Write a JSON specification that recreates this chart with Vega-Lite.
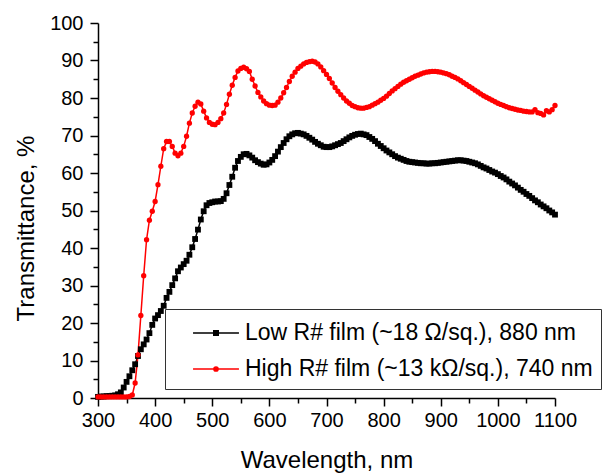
{
  "$schema": "https://vega.github.io/schema/vega-lite/v6.json",
  "width": 457,
  "height": 375,
  "autosize": {"type": "none"},
  "padding": {"left": 98, "top": 23, "right": 51, "bottom": 77},
  "background": "white",
  "config": {
    "view": {"stroke": null},
    "font": "Liberation Sans",
    "axis": {
      "grid": false,
      "domainColor": "#000000",
      "domainWidth": 1.5,
      "tickColor": "#000000",
      "tickWidth": 1.5,
      "labelColor": "#000000",
      "labelFont": "Liberation Sans",
      "labelFontSize": 20,
      "titleFont": "Liberation Sans",
      "titleFontSize": 24,
      "titleFontWeight": "normal",
      "titleColor": "#000000",
      "labelOverlap": false,
      "labelFlush": false
    }
  },
  "data": {
    "values": [
      {"w":300,"L":0.3,"H":0.3},{"w":305,"L":0.4,"H":0.3},{"w":310,"L":0.4,"H":0.3},{"w":315,"L":0.5,"H":0.3},{"w":320,"L":0.5,"H":0.3},
      {"w":325,"L":0.6,"H":0.3},{"w":330,"L":0.7,"H":0.3},{"w":335,"L":1.0,"H":0.3},{"w":340,"L":1.5,"H":0.3},{"w":345,"L":2.8,"H":0.3},
      {"w":350,"L":4.3,"H":0.3},{"w":355,"L":5.8,"H":0.4},{"w":360,"L":7.4,"H":0.8},{"w":365,"L":9.0,"H":4.0},{"w":370,"L":11.2,"H":11.5},
      {"w":375,"L":13.0,"H":22.0},{"w":380,"L":14.3,"H":32.6},{"w":385,"L":15.6,"H":42.2},{"w":390,"L":17.3,"H":47.4},{"w":395,"L":19.5,"H":49.8},
      {"w":400,"L":21.2,"H":52.4},{"w":405,"L":22.1,"H":56.9},{"w":410,"L":23.2,"H":61.8},{"w":415,"L":24.6,"H":66.5},{"w":420,"L":26.7,"H":68.4},
      {"w":425,"L":28.3,"H":68.4},{"w":430,"L":30.1,"H":67.1},{"w":435,"L":31.9,"H":65.3},{"w":440,"L":33.8,"H":64.6},{"w":445,"L":34.8,"H":65.3},
      {"w":450,"L":35.7,"H":67.1},{"w":455,"L":36.6,"H":69.8},{"w":460,"L":38.2,"H":73.3},{"w":465,"L":40.2,"H":76.0},{"w":470,"L":42.4,"H":77.8},
      {"w":475,"L":44.9,"H":78.9},{"w":480,"L":47.6,"H":78.4},{"w":485,"L":49.8,"H":76.5},{"w":490,"L":51.4,"H":74.7},{"w":495,"L":52.0,"H":73.5},
      {"w":500,"L":52.2,"H":73.0},{"w":505,"L":52.4,"H":72.9},{"w":510,"L":52.4,"H":73.5},{"w":515,"L":52.5,"H":74.5},{"w":520,"L":53.1,"H":76.0},
      {"w":525,"L":54.6,"H":78.3},{"w":530,"L":56.8,"H":81.0},{"w":535,"L":59.0,"H":83.4},{"w":540,"L":61.4,"H":85.5},{"w":545,"L":63.2,"H":87.2},
      {"w":550,"L":64.3,"H":87.9},{"w":555,"L":65.0,"H":88.2},{"w":560,"L":65.1,"H":87.8},{"w":565,"L":64.7,"H":87.1},{"w":570,"L":64.1,"H":85.0},
      {"w":575,"L":63.4,"H":83.2},{"w":580,"L":62.9,"H":81.5},{"w":585,"L":62.5,"H":80.3},{"w":590,"L":62.2,"H":79.2},{"w":595,"L":62.3,"H":78.5},
      {"w":600,"L":62.8,"H":78.1},{"w":605,"L":63.5,"H":78.0},{"w":610,"L":64.5,"H":78.1},{"w":615,"L":65.7,"H":78.9},{"w":620,"L":66.9,"H":80.0},
      {"w":625,"L":68.0,"H":81.4},{"w":630,"L":69.0,"H":82.8},{"w":635,"L":69.8,"H":84.4},{"w":640,"L":70.3,"H":85.8},{"w":645,"L":70.6,"H":86.9},
      {"w":650,"L":70.7,"H":87.9},{"w":655,"L":70.5,"H":88.5},{"w":660,"L":70.3,"H":89.1},{"w":665,"L":69.9,"H":89.5},{"w":670,"L":69.4,"H":89.7},
      {"w":675,"L":68.9,"H":89.8},{"w":680,"L":68.3,"H":89.6},{"w":685,"L":67.8,"H":89.1},{"w":690,"L":67.4,"H":88.3},{"w":695,"L":67.0,"H":87.3},
      {"w":700,"L":66.9,"H":86.3},{"w":705,"L":66.9,"H":85.2},{"w":710,"L":67.1,"H":84.0},{"w":715,"L":67.4,"H":82.8},{"w":720,"L":67.7,"H":81.8},
      {"w":725,"L":68.0,"H":80.9},{"w":730,"L":68.5,"H":80.0},{"w":735,"L":69.0,"H":79.2},{"w":740,"L":69.5,"H":78.6},{"w":745,"L":69.9,"H":78.0},
      {"w":750,"L":70.2,"H":77.7},{"w":755,"L":70.4,"H":77.4},{"w":760,"L":70.5,"H":77.3},{"w":765,"L":70.3,"H":77.3},{"w":770,"L":70.1,"H":77.5},
      {"w":775,"L":69.6,"H":77.7},{"w":780,"L":69.1,"H":78.1},{"w":785,"L":68.5,"H":78.5},{"w":790,"L":67.8,"H":78.9},{"w":795,"L":67.2,"H":79.4},
      {"w":800,"L":66.6,"H":79.9},{"w":805,"L":66.0,"H":80.5},{"w":810,"L":65.5,"H":81.2},{"w":815,"L":65.0,"H":81.9},{"w":820,"L":64.5,"H":82.5},
      {"w":825,"L":64.1,"H":83.1},{"w":830,"L":63.8,"H":83.7},{"w":835,"L":63.5,"H":84.2},{"w":840,"L":63.2,"H":84.6},{"w":845,"L":63.0,"H":85.0},
      {"w":850,"L":62.9,"H":85.4},{"w":855,"L":62.8,"H":85.8},{"w":860,"L":62.7,"H":86.1},{"w":865,"L":62.6,"H":86.4},{"w":870,"L":62.6,"H":86.7},
      {"w":875,"L":62.5,"H":86.9},{"w":880,"L":62.5,"H":87.0},{"w":885,"L":62.6,"H":87.1},{"w":890,"L":62.6,"H":87.1},{"w":895,"L":62.7,"H":87.0},
      {"w":900,"L":62.8,"H":86.9},{"w":905,"L":62.9,"H":86.7},{"w":910,"L":63.0,"H":86.5},{"w":915,"L":63.1,"H":86.2},{"w":920,"L":63.2,"H":85.8},
      {"w":925,"L":63.3,"H":85.5},{"w":930,"L":63.4,"H":85.1},{"w":935,"L":63.4,"H":84.6},{"w":940,"L":63.3,"H":84.1},{"w":945,"L":63.2,"H":83.6},
      {"w":950,"L":63.0,"H":83.1},{"w":955,"L":62.8,"H":82.6},{"w":960,"L":62.6,"H":82.1},{"w":965,"L":62.3,"H":81.6},{"w":970,"L":61.9,"H":81.1},
      {"w":975,"L":61.5,"H":80.6},{"w":980,"L":61.2,"H":80.2},{"w":985,"L":60.8,"H":79.8},{"w":990,"L":60.4,"H":79.4},{"w":995,"L":60.1,"H":79.0},
      {"w":1000,"L":59.7,"H":78.6},{"w":1005,"L":59.2,"H":78.3},{"w":1010,"L":58.8,"H":78.0},{"w":1015,"L":58.3,"H":77.7},{"w":1020,"L":57.7,"H":77.4},
      {"w":1025,"L":57.2,"H":77.2},{"w":1030,"L":56.7,"H":77.0},{"w":1035,"L":56.1,"H":76.8},{"w":1040,"L":55.5,"H":76.7},{"w":1045,"L":55.0,"H":76.5},
      {"w":1050,"L":54.4,"H":76.4},{"w":1055,"L":53.9,"H":76.3},{"w":1060,"L":53.3,"H":76.3},{"w":1065,"L":52.7,"H":76.9},{"w":1070,"L":52.2,"H":76.1},
      {"w":1075,"L":51.6,"H":75.9},{"w":1080,"L":51.1,"H":75.5},{"w":1085,"L":50.6,"H":76.6},{"w":1090,"L":50.0,"H":76.3},{"w":1095,"L":49.5,"H":76.9},
      {"w":1100,"L":48.9,"H":78.0}
    ]
  },
  "transform": [{"fold": ["L", "H"], "as": ["s", "t"]}],
  "encoding": {
    "x": {
      "field": "w", "type": "quantitative",
      "scale": {"domain": [300, 1100], "nice": false, "zero": false},
      "axis": {
        "title": "Wavelength, nm",
        "format": "d",
        "values": [300,350,400,450,500,550,600,650,700,750,800,850,900,950,1000,1050,1100],
        "labelExpr": "datum.value % 100 === 0 ? datum.label : ''",
        "tickSize": {"condition": {"test": "datum.value % 100 === 0", "value": 8}, "value": 5},
        "labelPadding": 4,
        "titleY": 69,
        "titleBaseline": "alphabetic"
      }
    },
    "y": {
      "field": "t", "type": "quantitative",
      "scale": {"domain": [0, 100], "nice": false},
      "axis": {
        "title": "Transmittance, %",
        "format": "d",
        "values": [0,5,10,15,20,25,30,35,40,45,50,55,60,65,70,75,80,85,90,95,100],
        "labelExpr": "datum.value % 10 === 0 ? datum.label : ''",
        "tickSize": {"condition": {"test": "datum.value % 10 === 0", "value": 8}, "value": 5},
        "labelPadding": 7,
        "titleX": -65,
        "titleY": 205,
        "titleAngle": -90,
        "titleAlign": "center",
        "titleBaseline": "alphabetic"
      }
    },
    "color": {
      "field": "s", "type": "nominal",
      "scale": {"domain": ["L", "H"], "range": ["#000000", "#ff0000"]},
      "legend": {
        "title": null,
        "orient": "none",
        "legendX": 67,
        "legendY": 286,
        "strokeColor": "#333333",
        "padding": 8,
        "symbolOffset": 27,
        "symbolSize": 900,
        "symbolStrokeWidth": 1.5,
        "symbolType": "M-1.53,0H1.53",
        "labelFont": "Liberation Sans",
        "labelFontSize": 23,
        "labelColor": "#000000",
        "labelOffset": 13,
        "labelLimit": 0,
        "rowPadding": 8,
        "labelExpr": "datum.value === 'L' ? 'Low R# film (~18 Ω/sq.), 880 nm' : 'High R# film (~13 kΩ/sq.), 740 nm'",
        "encode": {
          "symbols": {
            "update": {
              "shape": {"signal": "datum.value === 'L' ? 'M-1.53,0H1.53M-0.15,-0.15H0.15V0.15H-0.15Z' : 'M-1.53,0H1.53M-0.14,0A0.14,0.14,0,1,0,0.14,0A0.14,0.14,0,1,0,-0.14,0Z'"},
              "fill": {"scale": "color", "field": "value"},
              "stroke": {"scale": "color", "field": "value"},
              "strokeWidth": {"value": 1.5},
              "opacity": {"value": 1}
            }
          }
        }
      }
    }
  },
  "layer": [
    {"mark": {"type": "line", "strokeWidth": 1.5}},
    {
      "transform": [{"filter": "datum.s === 'L'"}],
      "mark": {"type": "point", "shape": "square", "filled": true, "size": 34, "opacity": 1}
    },
    {
      "transform": [{"filter": "datum.s === 'H'"}],
      "mark": {"type": "point", "shape": "circle", "filled": true, "size": 28, "opacity": 1}
    }
  ]
}
